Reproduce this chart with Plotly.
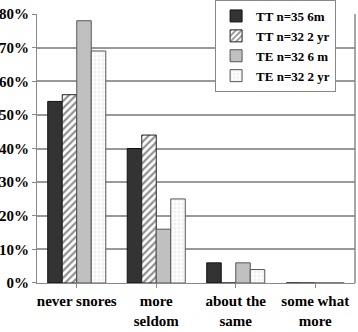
import plotly.graph_objects as go

categories = ["never snores", "more<br>seldom", "about the<br>same", "some what<br>more"]
tt_6m = [0.54, 0.40, 0.06, 0.0]
tt_2y = [0.56, 0.44, 0.0, 0.0]
te_6m = [0.78, 0.16, 0.06, 0.0]
te_2y = [0.69, 0.25, 0.04, 0.0]
series_names = ["TT n=35 6m", "TT n=32 2 yr", "TE n=32 6 m", "TE n=32 2 yr"]
tick_vals = [0, 0.1, 0.2, 0.3, 0.4, 0.5, 0.6, 0.7, 0.8]
tick_text = ["0%", "10%", "20%", "30%", "40%", "50%", "60%", "70%", "80%"]

font_family = "Liberation Serif"

fig = go.Figure()
fig.add_bar(x=categories, y=tt_6m, name=series_names[0],
            marker=dict(color="#333333", line=dict(color="#111111", width=1)))
fig.add_bar(x=categories, y=tt_2y, name=series_names[1],
            marker=dict(color="white", line=dict(color="#222222", width=1),
                        pattern=dict(shape="/", fgcolor="#222222", bgcolor="white", size=5, solidity=0.45)))
fig.add_bar(x=categories, y=te_6m, name=series_names[2],
            marker=dict(color="#c0c0c0", line=dict(color="#555555", width=1)))
fig.add_bar(x=categories, y=te_2y, name=series_names[3],
            marker=dict(color="white", line=dict(color="#555555", width=1),
                        pattern=dict(shape="+", fgcolor="#999999", bgcolor="white", size=4, solidity=0.15)))

fig.update_layout(
    width=358, height=332,
    margin=dict(l=37, r=3, t=0, b=49, autoexpand=False),
    paper_bgcolor="white", plot_bgcolor="white",
    barmode="group", bargap=0.27, bargroupgap=0,
    font=dict(family=font_family, size=15, color="black", weight="bold"),
    showlegend=True,
    legend=dict(x=0.56, y=1.0, xanchor="left", yanchor="top",
                bgcolor="white", bordercolor="#888888", borderwidth=1,
                font=dict(family=font_family, size=13, weight="bold"),
                itemwidth=30, tracegroupgap=0),
    xaxis=dict(showgrid=False, showline=True, linecolor="#888888", ticks="outside",
               tickcolor="#888888", ticklen=4, tickfont=dict(size=15), automargin=False),
    yaxis=dict(range=[0, 0.8], tickvals=tick_vals, ticktext=tick_text,
               domain=[0, 0.9505],
               showgrid=True, gridcolor="#999999", gridwidth=1.5,
               showline=True, linecolor="#888888", ticks="outside", tickcolor="#888888",
               ticklen=4, tickfont=dict(size=15), zeroline=False, automargin=False),
)
fig.add_shape(type="line", xref="paper", yref="paper", x0=1, x1=1, y0=0, y1=0.9505,
              line=dict(color="#888888", width=1.5))

fig.write_html("out.html", config={"displayModeBar": False},
               post_script="document.body.style.margin='0';document.body.style.overflow='hidden';")
